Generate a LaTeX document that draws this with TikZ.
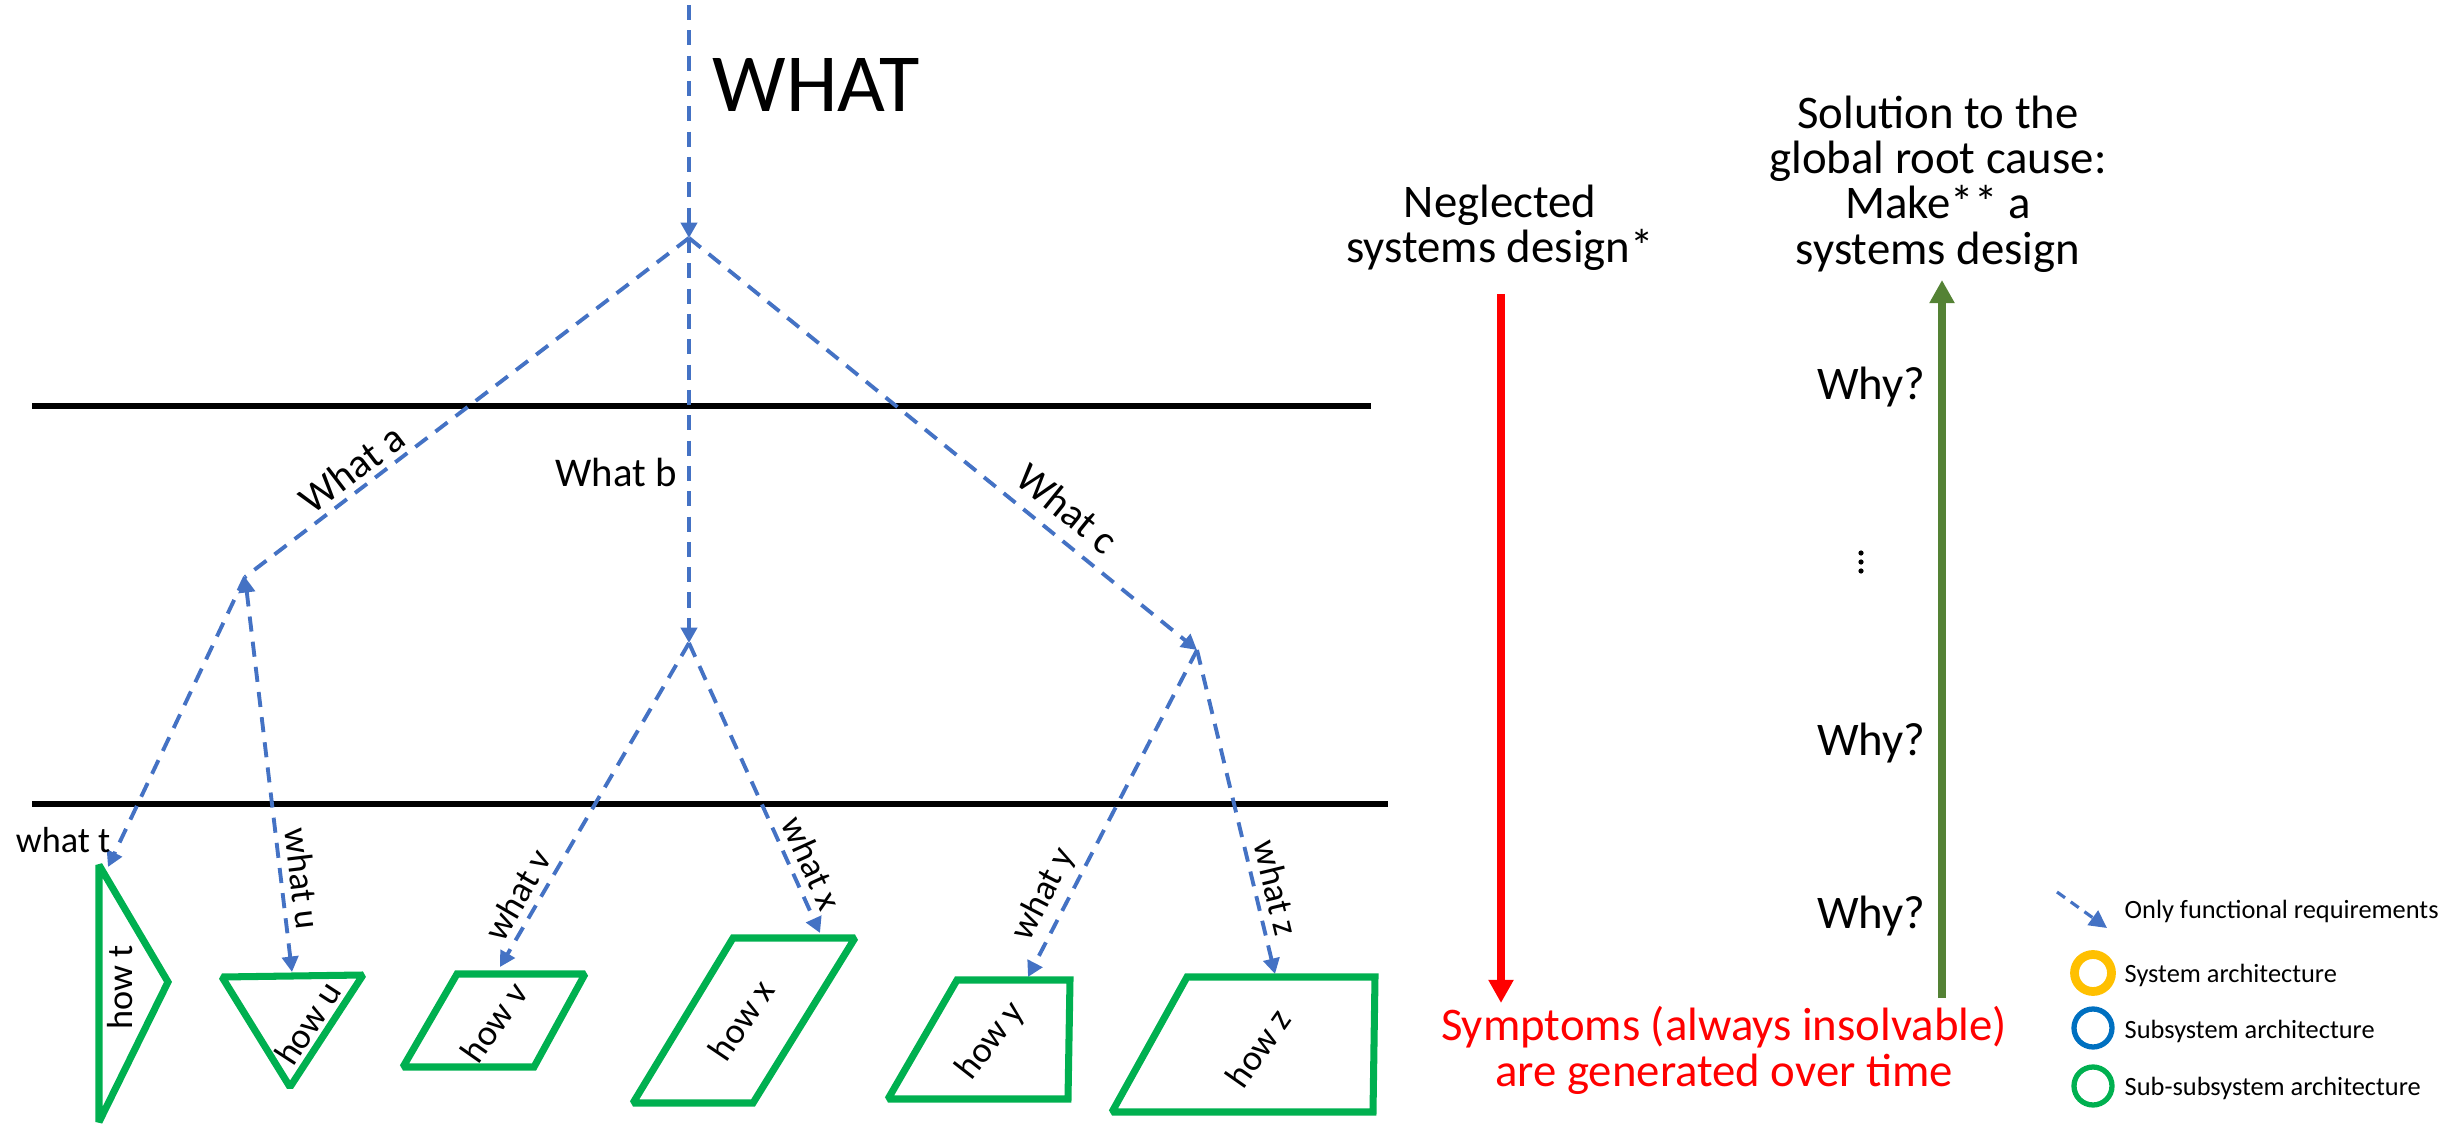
\documentclass[tikz,border=0pt]{standalone}
\usepackage{fontspec}
\setmainfont{Carlito}
\usetikzlibrary{arrows.meta}
\definecolor{reqblue}{HTML}{4472C4}
\definecolor{howgreen}{HTML}{00B050}
\definecolor{symred}{HTML}{FF0000}
\definecolor{solgreen}{HTML}{548235}
\definecolor{sysyellow}{HTML}{FFC000}
\definecolor{subblue}{HTML}{0070C0}
\begin{document}
\begin{tikzpicture}[x=0.01cm,y=-0.01cm,
  req/.style={draw=reqblue, line width=1.1pt, dash pattern=on 4.3pt off 2.9pt},
  reqtip/.style={-{Triangle[width=4.6pt,length=4.4pt]}},
  bothtip/.style={{Triangle[width=4.6pt,length=4.4pt]}-{Triangle[width=4.6pt,length=4.4pt]}},
  levelline/.style={line width=1.9pt, black},
  howshape/.style={draw=howgreen, line width=2pt, line join=miter, miter limit=1.6},
  lab/.style={font=\fontsize{11.6}{12}\selectfont, inner sep=1.5pt},
  sublab/.style={font=\fontsize{10.3}{11}\selectfont, inner sep=2pt},
  howlab/.style={font=\fontsize{10.3}{11}\selectfont, inner sep=0pt},
  big/.style={font=\fontsize{13.3}{12.9}\selectfont, inner sep=0pt, align=center},
  leg/.style={font=\fontsize{7.5}{8}\selectfont, inner sep=0pt, anchor=base west},
  bigarrow/.style={line width=2.3pt, -{Triangle[width=6.8pt,length=6.6pt]}},
]
\useasboundingbox (0,0) rectangle (2463,1125);

% junction points
\coordinate (top) at (689,5);
\coordinate (R) at (689,238);
\coordinate (A) at (245,577);
\coordinate (B) at (689,643);
\coordinate (C) at (1197,650);
\coordinate (tT) at (108,867);
\coordinate (uT) at (292,972);
\coordinate (vT) at (500,967);
\coordinate (xT) at (820,933);
\coordinate (yT) at (1028,977);
\coordinate (zT) at (1275,974);

% level lines
\draw[levelline] (32,406) -- (1371,406);
\draw[levelline] (32,804) -- (1388,804);

% WHAT
\node[anchor=base west, inner sep=0pt, font=\fontsize{23.5}{24}\selectfont] (what) at (712,112) {WHAT};
\draw[req, reqtip] (top) -- (R);
\draw[req] (R) -- node[lab, sloped, above, pos=0.73] (wa) {What a} (A);
\draw[req, reqtip] (R) -- node[lab, left, pos=0.58, xshift=-1.5pt] (wb) {What b} (B);
\draw[req, reqtip] (R) -- node[lab, sloped, above, pos=0.71, inner sep=3.5pt] (wc) {What c} (C);

\draw[req, reqtip] (A) -- (tT);
\draw[req, bothtip] (A) -- node[sublab, sloped, above, pos=0.77] (wu) {what u} (uT);
\draw[req, reqtip] (B) -- node[sublab, sloped, above, pos=0.81] (wv) {what v} (vT);
\draw[req, reqtip] (B) -- node[sublab, sloped, above, pos=0.79] (wx) {what x} (xT);
\draw[req, reqtip] (C) -- node[sublab, sloped, above, pos=0.78] (wy) {what y} (yT);
\draw[req, reqtip] (C) -- node[sublab, sloped, above, pos=0.75] (wz) {what z} (zT);
\node[sublab, anchor=base east, inner sep=0pt] (wt) at (111,853) {what t};

% green "how" shapes
\draw[howshape] (99,865) -- (168,982) -- (99,1122) -- cycle;
\node[howlab, rotate=90] (ht) at (120,987) {how t};
\draw[howshape] (222,977) -- (363,975) -- (290,1087) -- cycle;
\node[howlab, rotate=57] (hu) at (308,1023) {how u};
\draw[howshape] (457,974) -- (585,974) -- (534,1067) -- (403,1067) -- cycle;
\node[howlab, rotate=55] (hv) at (494,1022) {how v};
\draw[howshape] (733,938) -- (855,938) -- (753,1103) -- (633,1103) -- cycle;
\node[howlab, rotate=56] (hx) at (741,1020) {how x};
\draw[howshape] (957,980) -- (1070,980) -- (1068,1099) -- (888,1099) -- cycle;
\node[howlab, rotate=52] (hy) at (991,1041) {how y};
\draw[howshape] (1187,977) -- (1375,977) -- (1373,1112) -- (1112,1112) -- cycle;
\node[howlab, rotate=55] (hz) at (1258,1048) {how z};

% right part
\node[big, anchor=north] (neg) at (1500,184) {Neglected\\systems design*};
\node[big, anchor=north] (sol) at (1938,95) {Solution to the\\global root cause:\\Make** a\\systems design};
\coordinate (rs) at (1501,294);
\coordinate (re) at (1501,1003);
\draw[symred, bigarrow] (rs) -- (re);
\node[big, anchor=north, text=symred] (sym) at (1724,1006) {Symptoms (always insolvable)\\are generated over time};
\coordinate (gs) at (1942,998);
\coordinate (ge) at (1942,280);
\draw[solgreen, bigarrow] (gs) -- (ge);
\node[big, anchor=base east] (why1) at (1926,400) {Why?};
\node[big, anchor=base east] (why2) at (1926,756) {Why?};
\node[big, anchor=base east] (why3) at (1926,929) {Why?};
\fill (1861,553) circle (2.6);
\fill (1861,562) circle (2.6);
\fill (1861,571) circle (2.6);

% legend
\coordinate (ls) at (2057,892);
\coordinate (le) at (2107,928);
\draw[reqblue, line width=0.9pt, dash pattern=on 2.8pt off 2pt, -{Triangle[width=5pt,length=5pt]}] (ls) -- (le);
\node[leg] (l1) at (2124,919) {Only functional requirements};
\draw[sysyellow, line width=2.5pt] (2093,973) circle (18.5);
\node[leg] (l2) at (2124,982) {System architecture};
\draw[subblue, line width=1.5pt] (2093,1028) circle (19);
\node[leg] (l3) at (2124,1038) {Subsystem architecture};
\draw[howgreen, line width=1.5pt] (2093,1086) circle (19);
\node[leg] (l4) at (2124,1095) {Sub-subsystem architecture};
\end{tikzpicture}
\end{document}
